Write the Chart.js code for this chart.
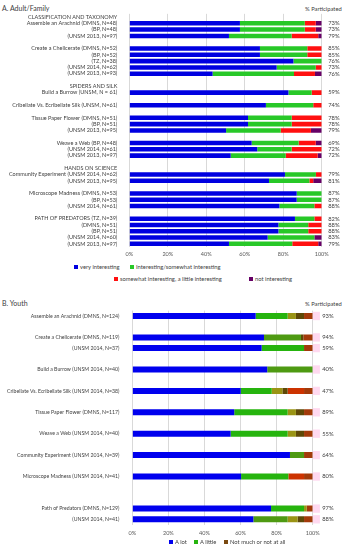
<!DOCTYPE html>
<html>
<head>
<meta charset="utf-8">
<script src="https://cdn.jsdelivr.net/npm/chart.js@4.4.0/dist/chart.umd.min.js"></script>
<style>
  html, body { margin: 0; padding: 0; background: #fff; }
  body { width: 347px; height: 550px; position: relative; overflow: hidden; font-family: Lato, 'Open Sans', sans-serif; color: #404040; }
  .abs { position: absolute; white-space: nowrap; line-height: 1; }
  .title { font-size: 7px; }
  .part { font-size: 5.8px; }
  .leg { font-size: 5.8px; display: flex; align-items: center; }
  .leg i { display: inline-block; width: 4px; height: 4px; margin-right: 2px; }
  #wrapA { position: absolute; left: 0; top: 0; width: 347px; height: 262px; }
  #wrapB { position: absolute; left: 0; top: 300px; width: 347px; height: 240px; }
</style>
</head>
<body>
<div class="abs title" style="left:2px;top:5px">A. Adult/Family</div>
<div class="abs part" style="left:305px;top:6px">% Participated</div>
<div id="wrapA"><canvas id="chartA"></canvas></div>
<div id="legendA"></div>

<div class="abs title" style="left:2px;top:300px">B. Youth</div>
<div class="abs part" style="left:305px;top:301px">% Participated</div>
<div id="wrapB"><canvas id="chartB"></canvas></div>
<div id="legendB"></div>

<script>
// ---- A. Adult/Family ----
const adultLabels = [
  'CLASSIFICATION AND TAXONOMY',
  'Assemble an Arachnid (DMNS, N=48)', '(BP, N=48)', '(UNSM 2013, N=97)', '',
  'Create a Chelicerate (DMNS, N=52)', '(BP, N=52)', '(TZ, N=38)', '(UNSM 2014, N=62)', '(UNSM 2013, N=93)', '',
  'SPIDERS AND SILK',
  'Build a Burrow (UNSM, N = 61)', '',
  'Cribellate Vs. Ecribellate Silk (UNSM, N=61)', '',
  'Tissue Paper Flower (DMNS, N=51)', '(BP, N=51)', '(UNSM 2013, N=95)', '',
  'Weave a Web (BP, N=48)', '(UNSM 2014, N=61)', '(UNSM 2013, N=97)', '',
  'HANDS ON SCIENCE',
  'Community Experiment (UNSM 2014, N=62)', '(UNSM 2013, N=95)', '',
  'Microscope Madness (DMNS, N=53)', '(BP, N=53)', '(UNSM 2014, N=61)', '',
  'PATH OF PREDATORS (TZ, N=39)', '(DMNS, N=51)', '(BP, N=51)', '(UNSM 2014, N=60)', '(UNSM 2013, N=97)'
];
const veryInteresting = [null, 57.5, 57.5, 51.8, null, 67.9, 67.9, 85.3, 76.6, 43.3, null, null, 82.7, null, 71.0, null,
  61.7, 61.7, 50.3, null, 63.6, 66.5, 52.7, null, null, 80.9, 72.6, null, 87.0, 87.0, 78.0, null, 86.1, 77.5, 77.5, 71.9, 51.8];
const interesting = [null, 33.7, 33.7, 32.6, null, 24.6, 24.6, 14.7, 20.3, 42.3, null, null, 12.1, null, 24.6, null,
  22.7, 22.7, 28.4, null, 24.4, 17.9, 28.6, null, null, 16.1, 21.0, null, 13.0, 13.0, 18.2, null, 10.1, 15.5, 15.5, 24.3, 32.9];
const littleInteresting = [null, 5.7, 5.7, 13.8, null, 7.5, 7.5, 0, 3.1, 10.9, null, null, 5.2, null, 4.4, null,
  15.6, 15.6, 15.7, null, 8.9, 15.6, 16.6, null, null, 3.0, 2.0, null, 0, 0, 3.8, null, 3.8, 7.0, 7.0, 0, 13.5];
const notInteresting = [null, 3.1, 3.1, 1.8, null, 0, 0, 0, 0, 3.5, null, null, 0, null, 0, null,
  0, 0, 5.6, null, 3.1, 0, 2.1, null, null, 0, 4.4, null, 0, 0, 0, null, 0, 0, 0, 3.8, 1.8];
const adultParticipated = ['', '73%', '73%', '79%', '', '85%', '85%', '76%', '73%', '76%', '', '', '59%', '', '74%', '',
  '78%', '78%', '79%', '', '69%', '72%', '72%', '', '', '79%', '81%', '', '87%', '87%', '88%', '', '82%', '88%', '88%', '83%', '79%'];

// ---- B. Youth ----
const youthLabels = [
  'Assemble an Arachnid (DMNS, N=124)', '',
  'Create a Chelicerate (DMNS, N=119)', '(UNSM 2014, N=37)', '',
  'Build a Burrow (UNSM 2014, N=40)', '',
  'Cribellate Vs. Ecribellate Silk (UNSM 2014, N=38)', '',
  'Tissue Paper Flower (DMNS, N=117)', '',
  'Weave a Web (UNSM 2014, N=40)', '',
  'Community Experiment (UNSM 2014, N=39)', '',
  'Microscope Madness (UNSM 2014, N=41)', '', '',
  'Path of Predators (DMNS, N=129)', '(UNSM 2014, N=41)'
];
const aLot = [68.4, null, 73.0, 71.7, null, 74.8, null, 60.1, null, 56.5, null, 54.5, null, 87.4, null, 60.3, null, null, 76.9, 67.1];
const aLittle = [17.7, null, 20.5, 23.5, null, 25.2, null, 17.2, null, 29.6, null, 31.6, null, 7.8, null, 26.2, null, null, 18.3, 19.0];
const aLittleShade = [4.6, null, 0, 0, null, 0, null, 5.9, null, 4.6, null, 4.6, null, 0, null, 0, null, null, 1.5, 5.5];
const notMuchDark = [4.5, null, 1.3, 0, null, 0, null, 2.9, null, 4.5, null, 4.5, null, 0, null, 0, null, null, 0, 3.6];
const notMuchRed = [0, null, 0, 0, null, 0, null, 9.1, null, 0, null, 0, null, 0, null, 8.7, null, null, 0, 0];
const notMuch = [4.8, null, 5.2, 4.8, null, 0, null, 4.8, null, 4.8, null, 4.8, null, 4.8, null, 4.8, null, null, 3.3, 4.8];
const youthParticipated = ['93%', '', '94%', '59%', '', '40%', '', '47%', '', '89%', '', '55%', '', '64%', '', '80%', '', '', '97%', '88%'];

const pctTicks = [0, 20, 40, 60, 80, 100];

// colours
const cBlue = '#0000e0', cGreen = '#28c828', cRed = '#ff1010', cPurple = '#660066';
const yBlue = '#0000ee', yGreen = '#26b40e', yOliveGreen = '#4e9a12', yOlive = '#9a9414', yDark = '#5e4806', yRed = '#cc3300', yBrown = '#a33a0a', yLegBrown = '#7a4a10';

function pctLabelPlugin(texts, dx) {
  return {
    id: 'pctLabels',
    afterDatasetsDraw(chart) {
      const ctx = chart.ctx;
      const yScale = chart.scales.y;
      ctx.save();
      ctx.fillStyle = '#404040';
      ctx.font = '5.8px Lato';
      ctx.textBaseline = 'middle';
      texts.forEach((t, i) => {
        if (!t) return;
        ctx.fillText(t, chart.chartArea.right + dx, yScale.getPixelForValue(i));
      });
      ctx.restore();
    }
  };
}

function xScale(height, pad) {
  return {
    stacked: true, min: 0, max: 100,
    afterBuildTicks: s => { s.ticks = pctTicks.map(v => ({ value: v })); },
    afterFit: s => { s.height = height; },
    grid: { color: '#d9d9d9', drawTicks: false },
    border: { display: false },
    ticks: { color: '#595959', font: { family: 'Lato', size: 5.5 }, padding: pad, callback: v => v + '%' }
  };
}

function yScale(width, pad, size) {
  return {
    stacked: true,
    afterFit: s => { s.width = width; },
    grid: { display: false },
    border: { display: false },
    ticks: { color: '#404040', font: { family: 'Lato', size: size }, autoSkip: false, padding: pad }
  };
}

// chart A
const barA = { barPercentage: 0.72, categoryPercentage: 1, borderWidth: 0 };
new Chart(document.getElementById('chartA'), {
  type: 'bar',
  data: {
    labels: adultLabels,
    datasets: [
      { label: 'very interesting', data: veryInteresting, backgroundColor: cBlue, ...barA },
      { label: 'Interesting/somewhat interesting', data: interesting, backgroundColor: cGreen, ...barA },
      { label: 'somewhat interesting, a little interesting', data: littleInteresting, backgroundColor: cRed, ...barA },
      { label: 'not interesting', data: notInteresting, backgroundColor: cPurple, ...barA }
    ]
  },
  options: {
    indexAxis: 'y',
    responsive: true,
    maintainAspectRatio: false,
    animation: false,
    layout: { padding: { top: 13.85, right: 25.3, left: 0, bottom: 0 } },
    plugins: { legend: { display: false }, tooltip: { enabled: false } },
    scales: { x: xScale(15, 4), y: yScale(129.3, 4, 5.5) }
  },
  plugins: [pctLabelPlugin(adultParticipated, 6.5)]
});

// chart B
const barB = { barPercentage: 0.56, categoryPercentage: 1, borderWidth: 0 };
new Chart(document.getElementById('chartB'), {
  type: 'bar',
  data: {
    labels: youthLabels,
    datasets: [
      { label: 'A lot', data: aLot, backgroundColor: yBlue, ...barB },
      { label: 'A little', data: aLittle, backgroundColor: [yGreen, null, yOliveGreen, yGreen, null, yOliveGreen, null, yGreen, null, yGreen, null, yGreen, null, yOliveGreen, null, yGreen, null, null, yGreen, yOliveGreen], ...barB },
      { label: 'A little (shaded)', data: aLittleShade, backgroundColor: yOlive, ...barB },
      { label: 'Not much (dark)', data: notMuchDark, backgroundColor: yDark, ...barB },
      { label: 'Not much (red)', data: notMuchRed, backgroundColor: yRed, ...barB },
      { label: 'Not much or not at all', data: notMuch, backgroundColor: yBrown, ...barB },
      { label: 'participated box', data: youthParticipated.map(t => t ? [100, 104] : null), backgroundColor: '#ffd9f0',
        stack: 'box', grouped: false, clip: false, order: 1, barPercentage: 0.78, categoryPercentage: 1, borderWidth: 0 }
    ]
  },
  options: {
    indexAxis: 'y',
    responsive: true,
    maintainAspectRatio: false,
    animation: false,
    layout: { padding: { top: 10.65, right: 34.3, left: 0, bottom: 0 } },
    plugins: { legend: { display: false }, tooltip: { enabled: false } },
    scales: { x: xScale(15.35, 5), y: yScale(132.3, 5, 5.2) }
  },
  plugins: [pctLabelPlugin(youthParticipated, 9.5)]
});

// legends (html)
function legendItem(parent, x, y, color, text) {
  const d = document.createElement('div');
  d.className = 'abs leg';
  d.style.left = x + 'px';
  d.style.top = y + 'px';
  d.innerHTML = '<i style="background:' + color + '"></i>' + text;
  document.getElementById(parent).appendChild(d);
}
legendItem('legendA', 74, 264, cBlue, 'very interesting');
legendItem('legendA', 130, 264, cGreen, 'Interesting/somewhat interesting');
legendItem('legendA', 114, 276, cRed, 'somewhat interesting, a little interesting');
legendItem('legendA', 249, 276, cPurple, 'not interesting');
legendItem('legendB', 169, 539, yBlue, 'A lot');
legendItem('legendB', 194, 539, yGreen, 'A little');
legendItem('legendB', 224, 539, yLegBrown, 'Not much or not at all');
</script>
</body>
</html>
